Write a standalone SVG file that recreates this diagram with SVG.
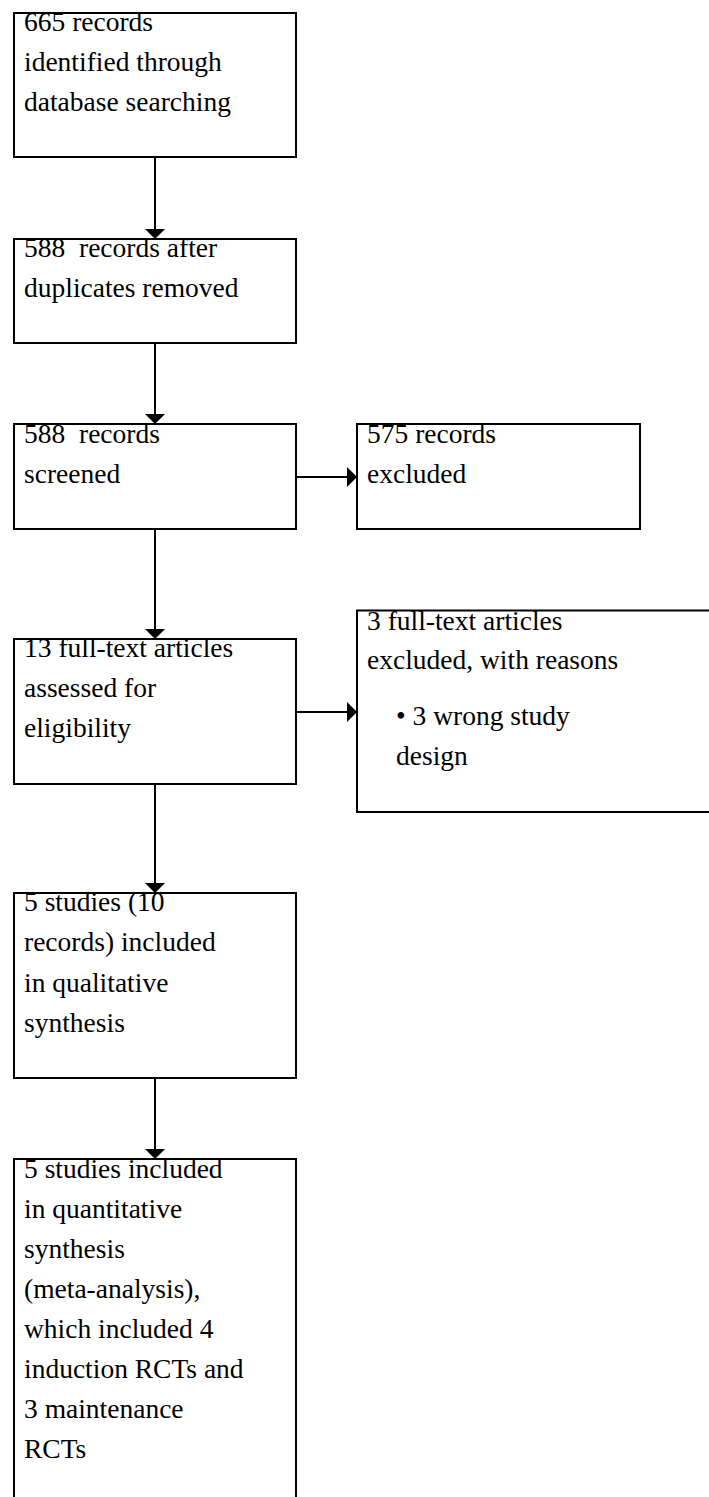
<svg xmlns="http://www.w3.org/2000/svg" width="709" height="1497" viewBox="0 0 709 1497">
<style>
.box{fill:none;stroke:#000;stroke-width:2}
.t{font-family:"Liberation Serif","Times New Roman",serif;font-size:27.5px;fill:#000}
.c{stroke:#000;stroke-width:2;fill:none}
</style>
<defs>
<marker id="ah" markerUnits="userSpaceOnUse" markerWidth="12" markerHeight="22" refX="10" refY="10" orient="auto" overflow="visible">
<path d="M0,0 L10,10 L0,20 Z" fill="#000"/>
</marker>
</defs>
<rect width="709" height="1497" fill="#fff"/>
<g id="connectors">
<line class="c" x1="155" y1="157" x2="155" y2="239" marker-end="url(#ah)"/>
<line class="c" x1="155" y1="343" x2="155" y2="424" marker-end="url(#ah)"/>
<line class="c" x1="155" y1="529" x2="155" y2="639" marker-end="url(#ah)"/>
<line class="c" x1="155" y1="784" x2="155" y2="893" marker-end="url(#ah)"/>
<line class="c" x1="155" y1="1078" x2="155" y2="1159" marker-end="url(#ah)"/>
<line class="c" x1="296" y1="477" x2="357" y2="477" marker-end="url(#ah)"/>
<line class="c" x1="296" y1="712" x2="357" y2="712" marker-end="url(#ah)"/>
</g>
<g id="n1">
<rect class="box" x="14" y="13" width="282" height="144"/>
<text class="t" x="24" y="31">665 records</text>
<text class="t" x="24" y="71">identified through</text>
<text class="t" x="24" y="110.5">database searching</text>
</g>
<g id="n2">
<rect class="box" x="14" y="239" width="282" height="104"/>
<text class="t" x="24" y="257" xml:space="preserve">588  records after</text>
<text class="t" x="24" y="297">duplicates removed</text>
</g>
<g id="n3">
<rect class="box" x="14" y="424" width="282" height="105"/>
<text class="t" x="24" y="443" xml:space="preserve">588  records</text>
<text class="t" x="24" y="483">screened</text>
</g>
<g id="n4">
<rect class="box" x="357" y="424" width="283" height="105"/>
<text class="t" x="367" y="443">575 records</text>
<text class="t" x="367" y="483">excluded</text>
</g>
<g id="n5">
<rect class="box" x="14" y="639" width="282" height="145"/>
<text class="t" x="24" y="657">13 full-text articles</text>
<text class="t" x="24" y="697">assessed for</text>
<text class="t" x="24" y="737">eligibility</text>
</g>
<g id="n6">
<rect class="box" x="357" y="610.5" width="370" height="201.5"/>
<text class="t" x="367" y="629.5">3 full-text articles</text>
<text class="t" x="367" y="668.5">excluded, with reasons</text>
<text class="t" x="396" y="725">• 3 wrong study</text>
<text class="t" x="396" y="765">design</text>
</g>
<g id="n7">
<rect class="box" x="14" y="893" width="282" height="185"/>
<text class="t" x="24" y="911">5 studies (10</text>
<text class="t" x="24" y="951">records) included</text>
<text class="t" x="24" y="991.5">in qualitative</text>
<text class="t" x="24" y="1031.5">synthesis</text>
</g>
<g id="n8">
<rect class="box" x="14" y="1159" width="282" height="360"/>
<text class="t" x="24" y="1178">5 studies included</text>
<text class="t" x="24" y="1218">in quantitative</text>
<text class="t" x="24" y="1258">synthesis</text>
<text class="t" x="24" y="1298">(meta-analysis),</text>
<text class="t" x="24" y="1338">which included 4</text>
<text class="t" x="24" y="1378">induction RCTs and</text>
<text class="t" x="24" y="1418">3 maintenance</text>
<text class="t" x="24" y="1458">RCTs</text>
</g>
</svg>
